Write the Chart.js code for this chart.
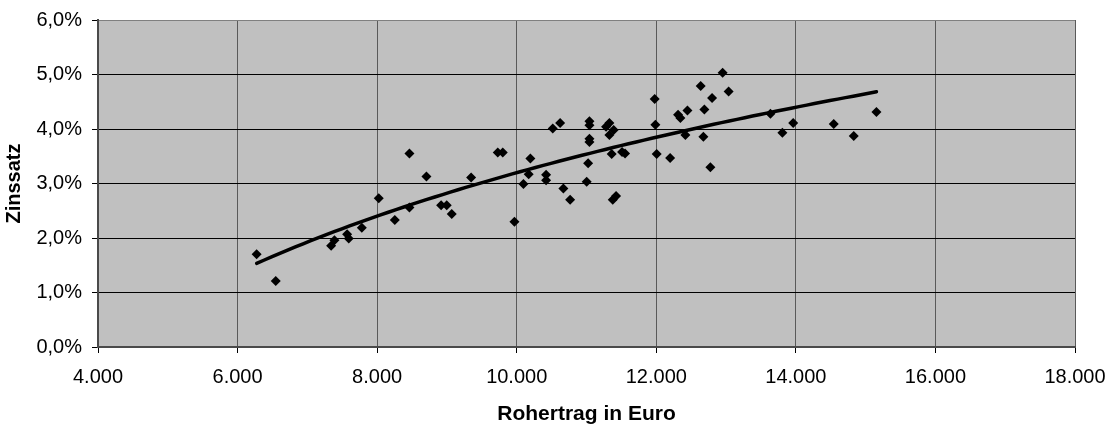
<!DOCTYPE html>
<html>
<head>
<meta charset="utf-8">
<script src="https://cdn.jsdelivr.net/npm/chart.js@4.4.0/dist/chart.umd.min.js"></script>
<style>
  html, body { margin: 0; padding: 0; background: #fff; }
  canvas { display: block; }
</style>
</head>
<body>
<canvas id="chart" width="1109" height="427"></canvas>
<script>
// Rohertrag (Euro) per observation
const rohertrag = [
  6273, 6547, 7341, 7388, 7570, 7593, 7780, 8023, 8253, 8463,
  8463, 8706, 8917, 8997, 9069, 9347, 9728, 9800, 9967, 10096,
  10172, 10196, 10421, 10421, 10516, 10622, 10669, 10765, 11003, 11023,
  11042, 11042, 11042, 11042, 11280, 11328, 11390, 11328, 11361, 11376,
  11424, 11510, 11553, 11977, 11987, 12006, 12198, 12312, 12345, 12417,
  12446, 12636, 12675, 12689, 12775, 12799, 12951, 13037, 13636, 13807,
  13962, 14543, 14830, 15155
];
// Zinssatz in %
const zinssatz = [
  1.70, 1.21, 1.86, 1.96, 2.07, 1.99, 2.19, 2.73, 2.33, 3.55,
  2.56, 3.13, 2.60, 2.60, 2.44, 3.11, 3.57, 3.57, 2.30, 2.99,
  3.17, 3.46, 3.16, 3.06, 4.01, 4.11, 2.91, 2.70, 3.03, 3.37,
  4.14, 4.07, 3.82, 3.76, 4.04, 4.11, 3.98, 3.89, 3.54, 2.70,
  2.77, 3.58, 3.55, 4.55, 4.08, 3.54, 3.47, 4.26, 4.20, 3.89,
  4.34, 4.79, 3.86, 4.36, 3.30, 4.57, 5.03, 4.69, 4.28, 3.93,
  4.11, 4.09, 3.87, 4.31
];
const xTicks = [4000, 6000, 8000, 10000, 12000, 14000, 16000, 18000];
const yTicks = [0, 1, 2, 3, 4, 5, 6];

const points = rohertrag.map((x, i) => ({ x: x, y: zinssatz[i] }));

// logarithmic trendline (least squares on ln x), like the spreadsheet one
function logFit(xs, ys) {
  const n = xs.length;
  let sl = 0, sy = 0, sll = 0, sly = 0;
  for (let i = 0; i < n; i++) {
    const l = Math.log(xs[i]);
    sl += l; sy += ys[i]; sll += l * l; sly += l * ys[i];
  }
  const a = (n * sly - sl * sy) / (n * sll - sl * sl);
  const b = (sy - a * sl) / n;
  return { a, b };
}
const fit = logFit(rohertrag, zinssatz);
const xMin = Math.min(...rohertrag), xMax = Math.max(...rohertrag);
const trend = [];
for (let i = 0; i <= 80; i++) {
  const x = xMin + (xMax - xMin) * i / 80;
  trend.push({ x: x, y: fit.a * Math.log(x) + fit.b });
}

const FONT = "'Liberation Sans', Arial, sans-serif";

function fmtThousand(v) {
  return String(v).replace(/\B(?=(\d{3})+(?!\d))/g, '.');
}

const plotBg = {
  id: 'plotBg',
  beforeDraw(chart) {
    const { ctx, chartArea: a } = chart;
    ctx.save();
    ctx.fillStyle = '#c0c0c0';
    ctx.fillRect(a.left, a.top, a.right - a.left, a.bottom - a.top);
    ctx.restore();
  }
};

new Chart(document.getElementById('chart').getContext('2d'), {
  type: 'scatter',
  data: {
    datasets: [
      {
        label: 'Zinssatz',
        data: points,
        pointStyle: 'rectRot',
        pointRadius: 5,
        backgroundColor: '#000',
        borderColor: '#000',
        borderWidth: 0,
        order: 1
      },
      {
        label: 'Trend',
        type: 'line',
        data: trend,
        borderColor: '#000',
        borderWidth: 3.5,
        pointRadius: 0,
        fill: false,
        tension: 0,
        borderCapStyle: 'round',
        order: 2
      }
    ]
  },
  options: {
    responsive: false,
    animation: false,
    events: [],
    layout: { padding: { top: 20, right: 34, left: 0, bottom: 0 } },
    plugins: { legend: { display: false }, tooltip: { enabled: false } },
    scales: {
      x: {
        type: 'linear',
        min: 4000,
        max: 18000,
        afterFit: s => { s.height = 80; s.paddingLeft = 0; s.paddingRight = 0; },
        afterBuildTicks: s => { s.ticks = xTicks.map(v => ({ value: v })); },
        ticks: {
          color: '#000',
          padding: 12,
          font: { family: FONT, size: 20 },
          callback: v => fmtThousand(v)
        },
        grid: {
          color: '#5a5a5a',
          lineWidth: 1,
          tickLength: 6,
          tickColor: '#000'
        },
        border: { color: '#4a4a4a', width: 2 },
        title: {
          display: true,
          text: 'Rohertrag in Euro',
          color: '#000',
          font: { family: FONT, size: 21, weight: 'bold' },
          padding: { top: 0, bottom: 0 }
        }
      },
      y: {
        min: 0,
        max: 6,
        afterFit: s => { s.width = 98; s.paddingTop = 0; s.paddingBottom = 0; },
        afterBuildTicks: s => { s.ticks = yTicks.map(v => ({ value: v })); },
        ticks: {
          color: '#000',
          padding: 10,
          font: { family: FONT, size: 20 },
          callback: v => v.toFixed(1).replace('.', ',') + '%'
        },
        grid: {
          color: ctx => (ctx.tick && ctx.tick.value === 6 ? '#808080' : '#000'),
          lineWidth: 1,
          tickLength: 6,
          tickColor: '#000'
        },
        border: { color: '#4a4a4a', width: 2 },
        title: {
          display: true,
          text: 'Zinssatz',
          color: '#000',
          font: { family: FONT, size: 20, weight: 'bold' },
          padding: { top: 2, bottom: 0 }
        }
      }
    }
  },
  plugins: [plotBg]
});
</script>
</body>
</html>
